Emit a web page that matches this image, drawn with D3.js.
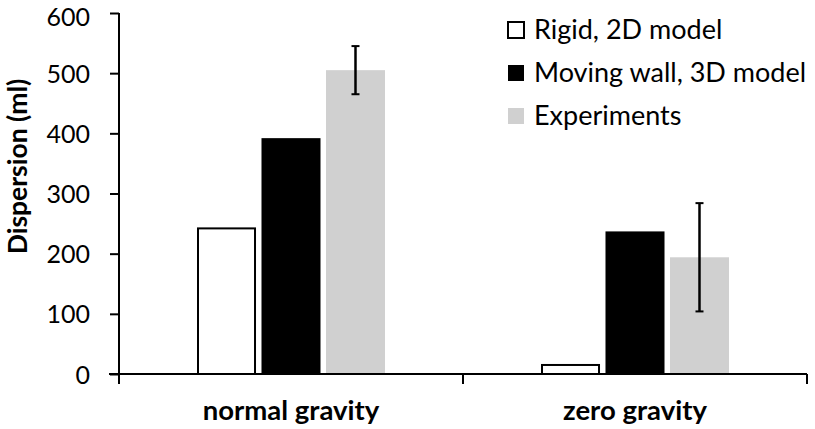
<!DOCTYPE html>
<html><head><meta charset="utf-8">
<script src="https://cdn.jsdelivr.net/npm/d3@7"></script>
<style>body{margin:0;background:#fff}svg{display:block}text{font-family:Lato,"Open Sans",sans-serif;fill:#000}</style>
</head><body>
<svg id="c" width="815" height="429"></svg>
<script>
const categories = ["normal gravity", "zero gravity"];
const seriesNames = ["Rigid, 2D model", "Moving wall, 3D model", "Experiments"];
const rigid2D = [242, 15];
const movingWall3D = [392, 237];
const experiments = [505, 194];
const experimentErr = [40, 90];
const yTicks = [0, 100, 200, 300, 400, 500, 600];

const fills = ["#ffffff", "#000000", "#d0d0d0"];
const strokes = ["#000", "none", "none"];
const seriesValues = [rigid2D, movingWall3D, experiments];

const svg = d3.select("#c");
const x0 = 119, x1 = 807, yTop = 13, yBot = 374;
const x = d3.scaleBand().domain(categories).range([x0, x1]).paddingInner(0).paddingOuter(0);
const xs = d3.scaleBand().domain(seriesNames).range([78, 344-78]).paddingInner(0.085).paddingOuter(0);
const y = d3.scaleLinear().domain([0, 600]).range([yBot, yTop]);

// bars
seriesNames.forEach((s, si) => {
  svg.append("g").selectAll("rect").data(categories).join("rect")
    .attr("x", (c) => x(c) + xs(s) + (si === 0 ? 1 : 0))
    .attr("width", xs.bandwidth() - (si === 0 ? 2 : 0))
    .attr("y", (c, i) => y(seriesValues[si][i]))
    .attr("height", (c, i) => yBot - y(seriesValues[si][i]))
    .attr("fill", fills[si])
    .attr("stroke", strokes[si])
    .attr("stroke-width", 2);
});

// error bars
const eg = svg.append("g").attr("stroke", "#000").attr("stroke-width", 2);
categories.forEach((c, i) => {
  const cx = x(c) + xs(seriesNames[2]) + xs.bandwidth() / 2;
  const hi = y(experiments[i] + experimentErr[i]), lo = y(experiments[i] - experimentErr[i]);
  eg.append("line").attr("x1", cx).attr("x2", cx).attr("y1", hi).attr("y2", lo).attr("stroke-width", 2.5);
  eg.append("line").attr("x1", cx - 4).attr("x2", cx + 4).attr("y1", hi).attr("y2", hi);
  eg.append("line").attr("x1", cx - 4).attr("x2", cx + 4).attr("y1", lo).attr("y2", lo);
});

// y axis
const ya = svg.append("g").attr("transform", `translate(${x0},0)`)
  .call(d3.axisLeft(y).tickValues(yTicks).tickSize(9).tickPadding(6).tickFormat(d3.format("d")));
ya.select(".domain").attr("stroke-width", 2).attr("d", `M-0,${yTop}V${yBot + 10}`);
ya.selectAll(".tick line").attr("stroke-width", 2);
ya.selectAll(".tick text").attr("font-size", 25).attr("font-family", "Lato").attr("dy", "0.36em").attr("x", -29)
  .attr("y", d => Math.max(0, 25.5 - (y(d) + 9)));

// x axis
const xa = svg.append("g").attr("transform", `translate(0,${yBot})`);
xa.append("line").attr("x1", x0 - 10).attr("x2", x1).attr("y1", 0).attr("y2", 0).attr("stroke", "#000").attr("stroke-width", 2);
[x0, x(categories[1]), x1].forEach(px => {
  xa.append("line").attr("x1", px).attr("x2", px).attr("y1", 0).attr("y2", 10).attr("stroke", "#000").attr("stroke-width", 2);
});
xa.selectAll("text.cat").data(categories).join("text").attr("class", "cat")
  .attr("x", c => x(c) + x.bandwidth() / 2).attr("y", 46)
  .attr("text-anchor", "middle").attr("font-size", 27.5).attr("font-weight", "bold").text(c => c);

// y title
svg.append("text").attr("transform", `translate(27,${(yTop + yBot) / 2 - 27}) rotate(-90)`)
  .attr("text-anchor", "middle").attr("font-size", 26.5).attr("font-weight", "bold").text("Dispersion (ml)");

// legend
const lg = svg.append("g").attr("transform", "translate(508,0)");
seriesNames.forEach((s, i) => {
  const cy = 30 + i * 43;
  lg.append("rect").attr("x", 0).attr("y", cy - 8).attr("width", 16).attr("height", 16)
    .attr("fill", fills[i]).attr("stroke", i === 0 ? "#000" : "none").attr("stroke-width", 2);
  lg.append("text").attr("x", 26).attr("y", cy).attr("dy", "0.35em").attr("font-size", 27).text(s);
});
</script>
</body></html>
